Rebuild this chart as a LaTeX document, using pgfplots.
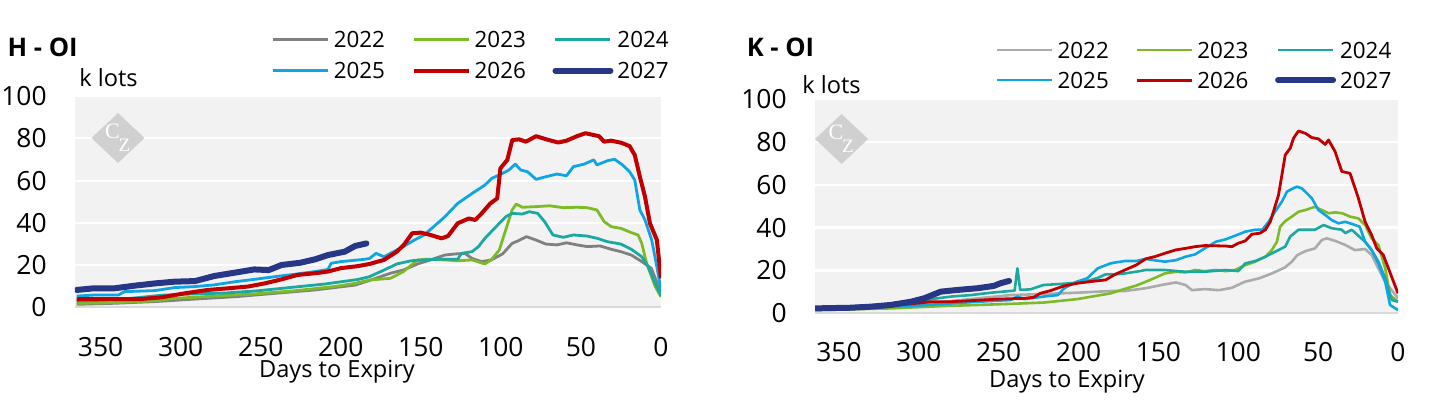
\documentclass[border=0pt]{standalone}
\usepackage{pgfplots}
\pgfplotsset{compat=1.18}
\usepackage{fontspec}
\setmainfont{Open Sans}
\newfontfamily\czfont{Liberation Serif}
\definecolor{c22}{HTML}{808080}
\definecolor{c22b}{HTML}{ABABAB}
\definecolor{c23}{HTML}{7DBA28}
\definecolor{c24}{HTML}{1AA8A0}
\definecolor{c25}{HTML}{0FA5E2}
\definecolor{c26}{HTML}{C00000}
\definecolor{c27}{HTML}{283785}
\definecolor{bg}{HTML}{F2F2F2}
\definecolor{axl}{HTML}{D9D9D9}
\definecolor{wm}{HTML}{D0D0D0}
\pgfplotsset{
 ozstyle/.style={
  scale only axis,
  x dir=reverse,
  xmin=0, ymin=0, ymax=100,
  xtick={0,50,...,350},
  ytick={0,20,...,100},
  axis background/.style={fill=bg},
  axis line style={draw=none},
  major tick length=0pt,
  ymajorgrids, major grid style={white, line width=1.1pt},
  tick label style={font=\fontsize{13.2}{15}\selectfont},
  /pgf/number format/assume math mode=true,
  xticklabel style={anchor=north, inner sep=0pt, yshift=-14.5pt},
  yticklabel style={anchor=east, inner sep=0pt, xshift=-14pt},
  legend columns=3,
  legend style={draw=none, fill=none, inner sep=0pt, outer sep=0pt, anchor=north west,
    font=\fontsize{11.2}{14}\selectfont, nodes={inner sep=0pt, text depth=0pt},
    /tikz/every odd column/.append style={column sep=2pt},
    /tikz/every even column/.append style={column sep=13.3pt}},
  legend image code/.code={\draw[##1] (0pt,0pt) -- (27.5pt,0pt);},
  every axis plot/.append style={line join=round},
 }
}
\begin{document}
\begin{tikzpicture}
\path[use as bounding box] (0,0) rectangle (718pt,202pt);
% ---------------- H - OI ----------------
\begin{axis}[ozstyle, at={(37.5pt,48.25pt)}, anchor=south west, width=293pt, height=105.75pt, xmax=366,
  legend style={at={(0.3362,1.305)}, row sep=7.4pt}]
\draw[axl, line width=1.2pt] (axis cs:366,0) -- (axis cs:0,0);
\addplot[c22, line width=1.4pt] coordinates {
(365,1.5) (341,2) (316,2.8) (291,4.0) (266,5.1) (241,6.7) (216,8.3) (191,10.6) (182,12.8)
(169,16.2) (161,17.7) (152,20.6) (144,22.5) (135,24.8) (129,25.3) (122.5,25.6) (118,23.2)
(112,21.7) (106,22.5) (99,25.3) (93,30.3) (89,31.6) (84,33.5) (78,31.9) (72,30) (65,29.6)
(59,30.6) (52.5,29.6) (46,28.8) (38,29.1) (31,27.5) (25,26.4) (18.5,24.8) (12,21.7) (6,18.5) (0,6.8)};
\addplot[c23, line width=1.4pt] coordinates {
(365,2.0) (341,2.3) (316,3.2) (304,4.3) (279,5.4) (254,6.4) (229,7.9) (204,9.9) (191,11.4)
(182,13) (169,13.8) (161,16.9) (152,22.5) (146,22.8) (135,22.5) (127,22.1) (118,22.5) (110,20.6)
(106,22.5) (101,27.2) (97,36.6) (93,46.1) (90.4,48.9) (86.6,47.4) (78,47.7) (69.6,48.1) (61,47.2)
(52.5,47.4) (46,47.2) (40,46.1) (35.5,40.6) (31,38.2) (25,37.4) (18.5,35.4) (14.3,34.3) (12,30.3)
(9,20.9) (3.6,9.9) (0,5.1)};
\addplot[c24, line width=1.4pt] coordinates {
(365,3.1) (341,3.6) (325,4.8) (312,5.8) (293,6.4) (273,6.8) (252,7.9) (231,9.5) (210,11.1)
(189,13.3) (182,14.6) (173,17.7) (165,20.6) (156,22.1) (148,22.5) (139,22.8) (127,22.8)
(124.6,25.6) (118,26.4) (114,28.8) (110,32.7) (103,38.2) (97,42.9) (93,44.5) (86.6,44.2)
(82.3,45.3) (77,44.5) (72.7,40.6) (67.5,34.3) (61,33.2) (54.7,34.3) (46.3,33.8) (39.8,32.7)
(33.4,31.1) (25,30) (18.5,27.5) (12,24) (8,19.3) (3.6,11.4) (0,5.5)};
\addplot[c25, line width=1.4pt] coordinates {
(365,5.4) (354,5.9) (339,5.9) (335,7.5) (316,8) (304,9.4) (291,9.9) (279,10.7) (266,12.2)
(254,13.3) (241,14.6) (229,15.7) (216,17) (208,18) (206,20.9) (200,21.7) (193,22.2) (185,22.8)
(182,23.2) (178,25.6) (173,24) (167,26.4) (161,28.8) (154,31.9) (148,34.3) (142,38.2) (135,42.9)
(127,49.2) (118,53.9) (110,57.9) (105.6,61.1) (99,63.4) (95,65) (91,67.8) (87.6,65) (83.4,64.2)
(78,60.6) (71.6,61.9) (65,63.1) (59,62.3) (54.7,66.6) (48,67.8) (42,69.8) (40,67.4) (33.4,69.4)
(29,70.1) (24,67.4) (19.6,64.2) (16.4,60.3) (13.2,46.1) (10,41.4) (5.8,31.9) (2.6,19.3) (0,8.3)};
\addplot[c26, line width=2pt] coordinates {
(365,3.9) (345,4) (325,4) (312,4.8) (297.5,6.7) (283,8.3) (270,9.1) (258,9.9) (247.5,11.4)
(237,13.3) (227,15.4) (216,16.2) (208,17) (200,18.6) (189,19.6) (182,20.6) (173,22.5) (165,26.4)
(160.7,29.5) (155.4,35.1) (150,35.4) (144,34.3) (137,32.7) (133,33.8) (127,39.8) (120,42.1)
(116,41.4) (112,44.5) (106.6,49.2) (102.3,51.6) (100.3,65.8) (96,69.8) (92.9,79.2) (88.6,79.5)
(84.4,78.4) (78,81) (71.6,79.5) (64.2,78) (58.9,78.9) (52.5,81) (47.2,82.4) (38.7,81) (35.5,78.4)
(31.2,78.9) (24.9,77.9) (19.6,76.3) (16.4,72.1) (13.2,61.9) (10,52.4) (6.9,39.8) (2.6,32) (0,13.8)};
\addplot[c27, line width=3pt, line cap=round] coordinates {
(365,8.3) (354,9.1) (341,9.1) (329,10.3) (316,11.4) (304,12.2) (291,12.5) (279,14.9) (266,16.5)
(254,18) (245,17.7) (237,20.1) (225,21.2) (216,22.8) (208,24.8) (197.5,26.4) (191,29.1) (184,30.3)};
\legend{2022,2023,2024,2025,2026,2027}
\end{axis}
% ---------------- K - OI ----------------
\begin{axis}[ozstyle, at={(407.5pt,45.35pt)}, anchor=south west, width=291.5pt, height=107.15pt, xmax=365,
  legend style={at={(0.3105,1.266)}, row sep=6.9pt}]
\draw[axl, line width=1.2pt] (axis cs:365,0) -- (axis cs:0,0);
\addplot[c22b, line width=1.3pt] coordinates {
(365,2) (305,3.9) (284,5.4) (263,7) (242.5,8.5) (222,9) (201,9.6) (180,10.4) (171,10.4)
(158,11.7) (146,13.5) (139,14.4) (133,13.2) (129,10.8) (121,11.3) (112,10.8) (104,11.9) (96,14.7)
(87,16.3) (79,18.6) (71,21.3) (66.5,24.1) (63,27.2) (58,29) (52,30.3) (47.7,34.2) (44.6,35)
(39.4,33.8) (33,31.9) (27,29.5) (20.6,30) (16.5,27.2) (12.3,21) (8,14.7) (0,7)};
\addplot[c23, line width=1.3pt] coordinates {
(365,1.5) (317,2.3) (284,3.4) (263,3.9) (242.5,4.4) (222,5) (201,6.6) (180,9.3) (171,11.4)
(164,12.9) (158,14.7) (152,16.6) (146,18.6) (139,19.4) (133,19.1) (127,20.2) (121,19.7) (114,20.2)
(108,19.7) (102,20.2) (95.6,22.5) (89.4,24.1) (83,26.4) (79,29.5) (75.8,33.4) (73.8,40.4)
(70.6,43) (66.5,45.1) (62.3,47.4) (58,48.2) (52,49.7) (47.7,48.2) (43.5,46.7) (39.4,47.1) (35,46.7)
(30,45.1) (24.8,44.3) (20.6,41.2) (16.5,35) (12.3,31.9) (8,21) (5,8.5) (0,5.4)};
\addplot[c24, line width=1.3pt] coordinates {
(365,2.3) (305,4.7) (292.5,6.6) (280,7.8) (267.5,8.5) (255,9.6) (240,10.6) (238.3,21) (236.5,10.9)
(230,11.2) (222,13.2) (209,13.8) (197,14.5) (188,16.5) (183,18.2) (177,18.2) (171,18.6) (164,19.4)
(158,20.2) (146,20.2) (133,19.4) (121,19.4) (108,20.2) (100,19.7) (95.6,23.3) (89.4,24.4) (83,26.4)
(77,28.7) (70.6,31.1) (67.5,35.8) (62.3,39) (58,39) (52,39) (46.6,41.2) (41.5,39.7) (35.2,39)
(33,37.4) (29,39) (24.8,36.2) (20.6,33.4) (16.5,29.5) (12.3,24.1) (8,16.3) (3.9,6.2) (0,5.4)};
\addplot[c25, line width=1.3pt] coordinates {
(365,2.3) (305,3.4) (284,4.4) (263,5.4) (242.5,6.2) (238.3,7.8) (234,6.6) (222,7.8) (213,8.5)
(209,11.7) (201,14.8) (194.6,16.3) (188,21) (180,23.3) (177,23.7) (171,24.4) (164,24.4) (158,25.4)
(152,24.7) (146,24.1) (139,24.8) (133,26.4) (127,27.5) (121,30.3) (114,33.4) (108,34.5) (102,36.2)
(95.6,38.1) (89.4,39) (85,39) (81,42.7) (77,47.4) (72.7,52.1) (69.6,56.7) (66.5,58) (63.3,59.1)
(60.2,58.3) (57,56) (54,53.7) (49.8,48.2) (45.6,45.9) (41.5,43.5) (37.3,42) (33,42.7) (28,41.5)
(24,40.4) (20.6,33.4) (16.5,29.5) (12.3,23.3) (8,14.7) (5,3.9) (0,1.5)};
\addplot[c26, line width=1.4pt] coordinates {
(365,2.3) (305,4.4) (292.5,5.4) (280,5.4) (267.5,5.9) (251,6.6) (234,7) (228,7.5) (224,9.3)
(217.5,10.6) (209,12.8) (201,14) (192.5,14.8) (183,15.6) (177,18.2) (171,20.2) (164,22.5)
(158,25.4) (152,26.5) (146,28) (139,29.6) (133,30.3) (127,31.1) (121,31.6) (108,31.4) (104,31.1)
(100,32.7) (95.6,33.8) (91.5,36.9) (86.3,37.4) (83,39) (80,42.7) (78,47.4) (74.8,55.2) (72.7,64.5)
(70.6,73.9) (67.5,77) (65.4,81.7) (62.3,85.1) (58,84) (54,82) (49.8,81.4) (45.6,78.8) (43.5,80.9)
(39.4,75.5) (35.2,66.2) (30,65.3) (24.8,53.7) (20.6,42.7) (16.5,36.5) (13.3,30.3) (9.2,27.2) (6,21) (0,9.3)};
\addplot[c27, line width=3pt, line cap=round] coordinates {
(365,2.3) (342.5,2.6) (330,3.1) (317.5,3.9) (305,5.4) (296.7,7) (286.3,10.1) (275.8,10.9)
(263.3,11.7) (253,12.8) (249,14) (243.5,15.1)};
\legend{2022,2023,2024,2025,2026,2027}
\end{axis}
% ---------------- texts ----------------
\node[anchor=base west, inner sep=0pt, font=\bfseries\fontsize{12.8}{15}\selectfont] at (3.65pt,174pt) {H - OI};
\node[anchor=base west, inner sep=0pt, font=\fontsize{11.8}{14}\selectfont] at (39.5pt,158.65pt) {k lots};
\node[inner sep=0pt, font=\fontsize{11.8}{14}\selectfont] at (168.5pt,16.15pt) {Days to Expiry};
\node[anchor=base west, inner sep=0pt, font=\bfseries\fontsize{12.8}{15}\selectfont] at (373.2pt,173.7pt) {K - OI};
\node[anchor=base west, inner sep=0pt, font=\fontsize{11.8}{14}\selectfont] at (401pt,155.5pt) {k lots};
\node[inner sep=0pt, font=\fontsize{11.8}{14}\selectfont] at (533.5pt,11.15pt) {Days to Expiry};
% watermarks
\foreach \cx/\cy in {59/133, 420.8/132.5}{
  \fill[wm] (\cx pt,\cy pt+12.5pt) -- (\cx pt+13.25pt,\cy pt) -- (\cx pt,\cy pt-12.5pt) -- (\cx pt-13.25pt,\cy pt) -- cycle;
  \node[white, inner sep=0pt, font=\czfont\fontsize{11}{11}\selectfont] at (\cx pt-2.8pt,\cy pt+3.4pt) {C};
  \node[white, inner sep=0pt, font=\czfont\fontsize{9.5}{9.5}\selectfont] at (\cx pt+3.2pt,\cy pt-3.6pt) {Z};
}
\end{tikzpicture}
\end{document}
